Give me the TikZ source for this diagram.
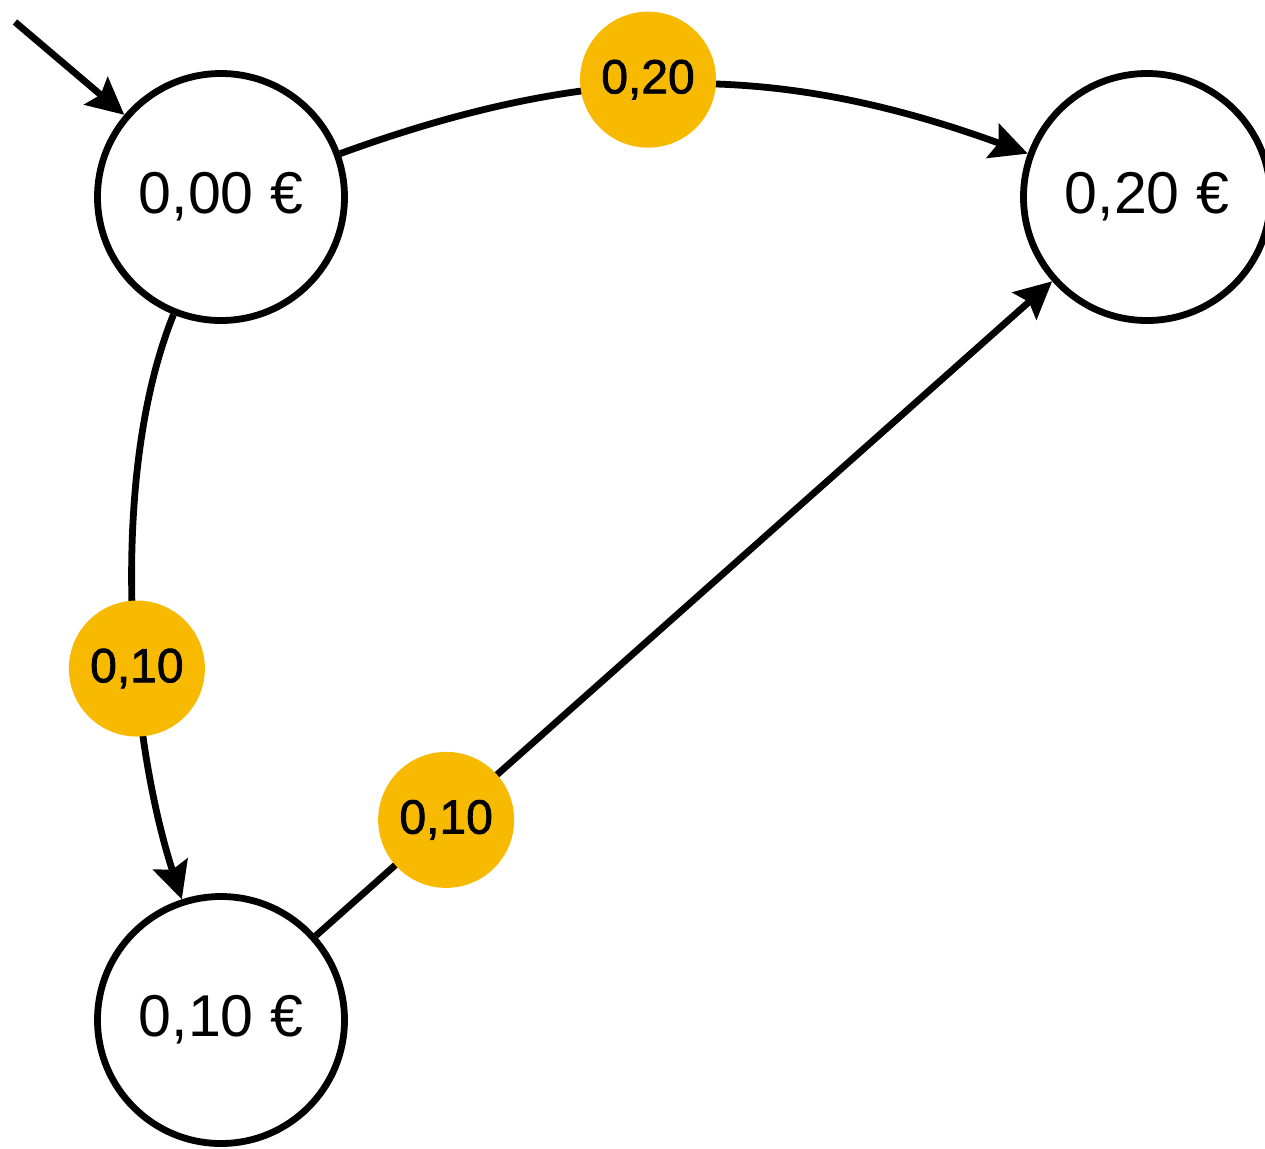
\documentclass[tikz,border=0pt]{standalone}
\usepackage{fontspec}
\setmainfont{Liberation Sans}
\usetikzlibrary{arrows.meta}
\definecolor{lblyellow}{RGB}{247,186,0}
\begin{document}
\begin{tikzpicture}[x=0.5pt,y=-0.5pt,
  state/.style={circle,draw=black,line width=3.4pt,fill=white,minimum size=123.5pt,inner sep=0pt,font=\fontsize{29.5}{34}\selectfont},
  lbl/.style={circle,fill=lblyellow,minimum size=68pt,inner sep=0pt,font=\fontsize{24}{28}\selectfont\addfontfeature{FakeBold=1.6}},
  edge/.style={line width=3.4pt,-{Stealth[length=18.5pt,width=18pt,inset=3pt]}}]
\useasboundingbox (0,0) rectangle (1265,1148);
\node[state] (a) at (221,197) {0,00 €};
\node[state] (c) at (1147,197) {0,20 €};
\node[state] (b) at (221,1020) {0,10 €};
\coordinate (start) at (15,22);
\draw[edge] (start) -- (a);
\draw[edge] (a) to[out=20,in=160] node[lbl,pos=0.445,yshift=3pt] (l1) {0,20} (c);
\draw[edge] (a) to[out=248,in=108,looseness=0.76] node[lbl,pos=0.6] (l2) {0,10} (b);
\draw[edge] (b) -- node[lbl,pos=0.177] (l3) {0,10} (c);
\end{tikzpicture}
\end{document}
